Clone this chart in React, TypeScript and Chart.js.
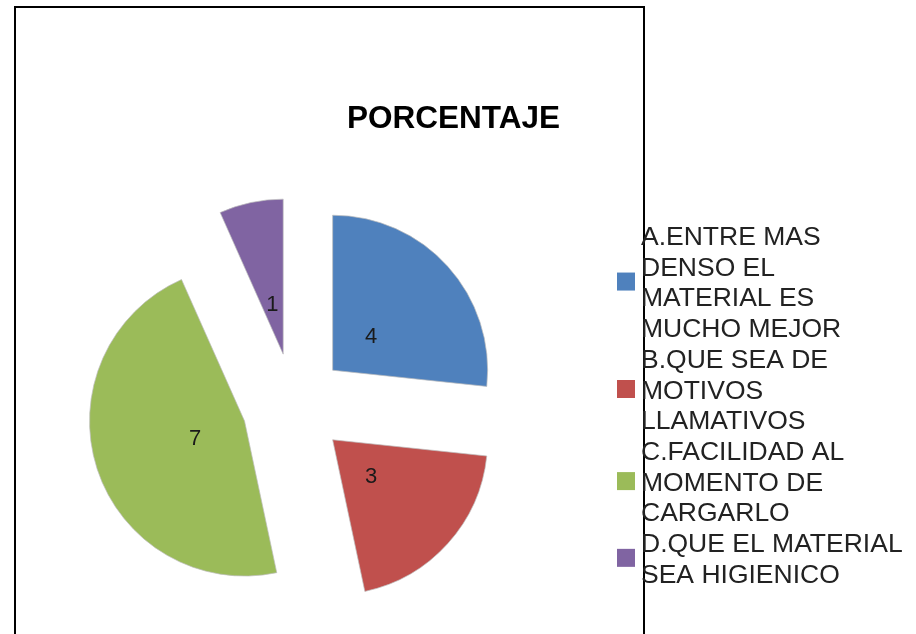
import { useEffect, useRef } from "react";
import { Chart, registerables } from "chart.js";

Chart.register(...registerables);

const title = "PORCENTAJE";
const categories = [
  "A.ENTRE MAS DENSO EL MATERIAL ES MUCHO MEJOR",
  "B.QUE SEA DE MOTIVOS LLAMATIVOS",
  "C.FACILIDAD AL MOMENTO DE CARGARLO",
  "D.QUE EL MATERIAL SEA HIGIENICO",
];
const legendLines = [
  ["A.ENTRE MAS", "DENSO EL", "MATERIAL ES", "MUCHO MEJOR"],
  ["B.QUE SEA DE", "MOTIVOS", "LLAMATIVOS"],
  ["C.FACILIDAD AL", "MOMENTO DE", "CARGARLO"],
  ["D.QUE EL MATERIAL", "SEA HIGIENICO"],
];
const values = [4, 3, 7, 1];
const colors = ["#4F81BD", "#C0504D", "#9BBB59", "#8064A2"];

const W = 916;
const H = 634;
const RADIUS = 155;
const EXPLODE = 52; // px the slices are pulled out
const FONT = "'Liberation Sans', Arial, sans-serif";

export default function App() {
  const ref = useRef<HTMLCanvasElement | null>(null);

  useEffect(() => {
    const canvas = ref.current;
    if (!canvas) return;

    // Chart.js enlarges / narrows exploded pie slices; undo that so every
    // slice keeps the same radius and its true angle.
    const radiusFix = {
      id: "radiusFix",
      afterDatasetsUpdate(chart: any) {
        const meta = chart.getDatasetMeta(0);
        meta.data.forEach((arc: any) => {
          const c = arc.circumference || 0;
          const fix = 1 - Math.sin(Math.min(Math.PI, c));
          const ro = EXPLODE * fix;
          arc.outerRadius = RADIUS - ro;
          const widen = ro / Math.PI / RADIUS / 2;
          arc.startAngle -= widen;
          arc.endAngle += widen;
        });
      },
    };

    const decor = {
      id: "decor",
      beforeDraw(chart: any) {
        const ctx = chart.ctx;
        ctx.save();
        ctx.fillStyle = "#ffffff";
        ctx.fillRect(0, 0, W, H);
        ctx.strokeStyle = "#000000";
        ctx.lineWidth = 2;
        ctx.beginPath();
        ctx.moveTo(15, H + 10);
        ctx.lineTo(15, 7);
        ctx.lineTo(644, 7);
        ctx.lineTo(644, H + 10);
        ctx.stroke();
        ctx.restore();
      },
      afterDatasetsDraw(chart: any) {
        const ctx = chart.ctx;
        const meta = chart.getDatasetMeta(0);
        ctx.save();
        ctx.font = `22px ${FONT}`;
        ctx.fillStyle = "#1a1a1a";
        ctx.textAlign = "center";
        ctx.textBaseline = "alphabetic";
        meta.data.forEach((arc: any, i: number) => {
          const mid = (arc.startAngle + arc.endAngle) / 2;
          const d = EXPLODE + RADIUS * 0.335;
          const x = arc.x + Math.cos(mid) * d;
          const y = arc.y + Math.sin(mid) * d;
          ctx.fillText(String(values[i]), x, y + 8);
        });
        ctx.restore();
      },
      afterDraw(chart: any) {
        const ctx = chart.ctx;
        ctx.save();
        ctx.fillStyle = "#000000";
        ctx.font = `bold 31.5px ${FONT}`;
        ctx.textAlign = "center";
        ctx.textBaseline = "alphabetic";
        ctx.fillText(title, 453.5, 128);

        ctx.font = `26.5px ${FONT}`;
        ctx.textAlign = "left";
        const step = 30.7;
        let line = 0;
        legendLines.forEach((lines, i) => {
          const first = 245 + line * step;
          const last = 245 + (line + lines.length - 1) * step;
          const cy = (first + last) / 2 - 9.5;
          ctx.fillStyle = colors[i];
          ctx.fillRect(617, cy - 9, 18, 18);
          ctx.fillStyle = "#222222";
          lines.forEach((t, j) => {
            ctx.fillText(t, 641, first + j * step);
          });
          line += lines.length;
        });
        ctx.restore();
      },
    };

    // chart area centred on the pie centre (294, 405)
    const chart = new Chart(canvas, {
      type: "pie",
      data: {
        labels: categories,
        datasets: [
          {
            data: values,
            backgroundColor: colors,
            borderColor: "rgba(190,190,190,0.7)",
            borderWidth: 1,
            offset: EXPLODE * 4,
            hoverOffset: 0,
            radius: RADIUS,
          },
        ],
      },
      options: {
        responsive: false,
        animation: false,
        events: [],
        layout: { padding: { left: 100, right: W - 488, top: 250, bottom: H - 560 } },
        plugins: {
          legend: { display: false },
          title: { display: false },
          tooltip: { enabled: false },
        },
      },
      plugins: [radiusFix, decor],
    });

    return () => chart.destroy();
  }, []);

  return (
    <div style={{ position: "fixed", left: 0, top: 0, width: W, height: H, background: "#fff" }}>
      <canvas ref={ref} width={W} height={H} style={{ width: W, height: H, display: "block" }} />
    </div>
  );
}
